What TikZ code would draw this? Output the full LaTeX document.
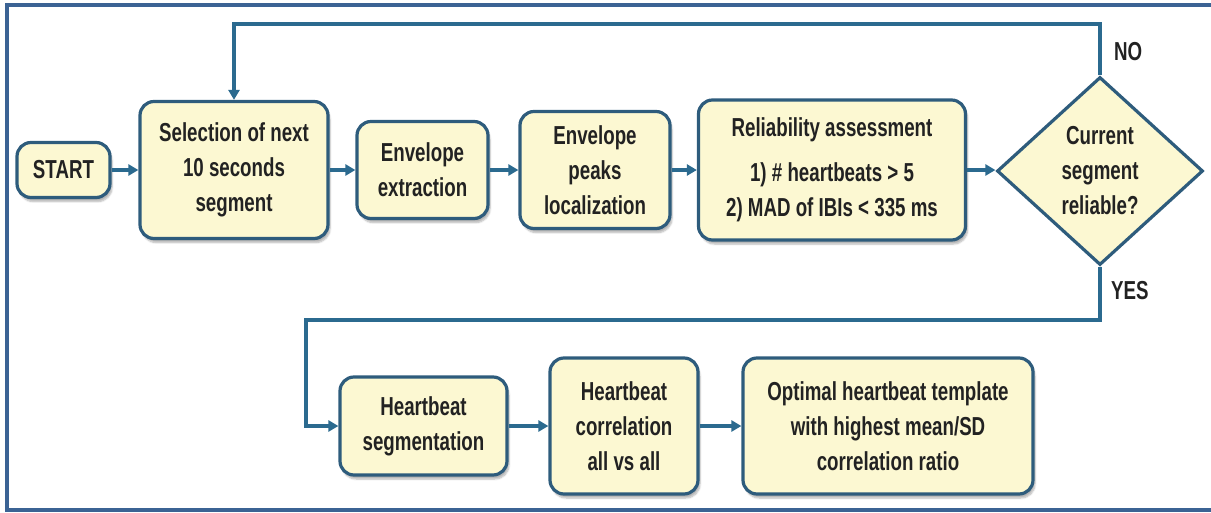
\documentclass[tikz,border=0pt]{standalone}
\usepackage{fontspec}
\newfontfamily\boxfont{Liberation Sans}[FakeStretch=0.72]
\usetikzlibrary{shapes.geometric,arrows.meta,shadows.blur}
\definecolor{boxfill}{HTML}{FCF8D2}
\definecolor{boxborder}{HTML}{2E5C7C}
\definecolor{arrowcol}{HTML}{2B6A8F}
\definecolor{framecol}{HTML}{3B6394}
\definecolor{txt}{HTML}{222222}
\tikzset{
  txtfont/.style={font=\boxfont\bfseries\fontsize{26}{35}\selectfont, text=txt},
  procbox/.style={txtfont, draw=boxborder, line width=3.2pt, fill=boxfill,
    rounded corners=14pt, align=center, inner sep=0pt,
    blur shadow={shadow xshift=2pt, shadow yshift=-4pt, shadow blur steps=6, shadow opacity=30}},
  decbox/.style={txtfont, draw=boxborder, line width=3.2pt, fill=boxfill,
    diamond, align=center, inner sep=0pt},
  arr/.style={draw=arrowcol, line width=3.2pt, -{Triangle[length=10pt,width=11pt]}},
  lbl/.style={txtfont, anchor=west, inner sep=0pt}
}
\begin{document}
\begin{tikzpicture}[x=1pt,y=-1pt]
\useasboundingbox (0,0) rectangle (1211,512);
\draw[framecol, line width=3.5pt] (1220,5) -- (7,5) -- (7,510) -- (1220,510);

\node[procbox, minimum width=93pt, minimum height=55pt] (start) at (63.5,170) {START};
\node[procbox, minimum width=188pt, minimum height=137pt] (sel) at (234,170) {Selection of next\\10 seconds\\segment};
\node[procbox, minimum width=131pt, minimum height=97pt] (env) at (422.5,170) {Envelope\\extraction};
\node[procbox, minimum width=150pt, minimum height=117pt] (peaks) at (595,170) {Envelope\\peaks\\localization};
\node[procbox, minimum width=267pt, minimum height=140pt] (rel) at (832,170) {Reliability assessment\\[10pt]1) \# heartbeats > 5\\2) MAD of IBIs < 335 ms};
\node[decbox, minimum width=206pt, minimum height=188pt] (dia) at (1100,171) {Current\\segment\\reliable?};

\node[procbox, minimum width=167pt, minimum height=98pt] (seg) at (423.5,426) {Heartbeat\\segmentation};
\node[procbox, minimum width=148pt, minimum height=136pt] (corr) at (624,426) {Heartbeat\\correlation\\all vs all};
\node[procbox, minimum width=290pt, minimum height=136pt] (opt) at (888,426) {Optimal heartbeat template\\with highest mean/SD\\correlation ratio};

\draw[arr] (start) -- (sel);
\draw[arr] (sel) -- (env);
\draw[arr] (env) -- (peaks);
\draw[arr] (peaks) -- (rel);
\draw[arr] (rel.east) -- (rel.east -| dia.west);

\coordinate (topy) at (0,24);
\draw[arr] (dia.north) -- (dia.north |- topy) -| (sel.north);
\node[lbl] (no) at (1114,52) {NO};

\coordinate (lx) at (306,320);
\draw[arr] (dia.south) |- (lx) |- (seg.west);
\node[lbl] (yes) at (1111,291) {YES};

\draw[arr] (seg) -- (corr);
\draw[arr] (corr) -- (opt);
\end{tikzpicture}
\end{document}
